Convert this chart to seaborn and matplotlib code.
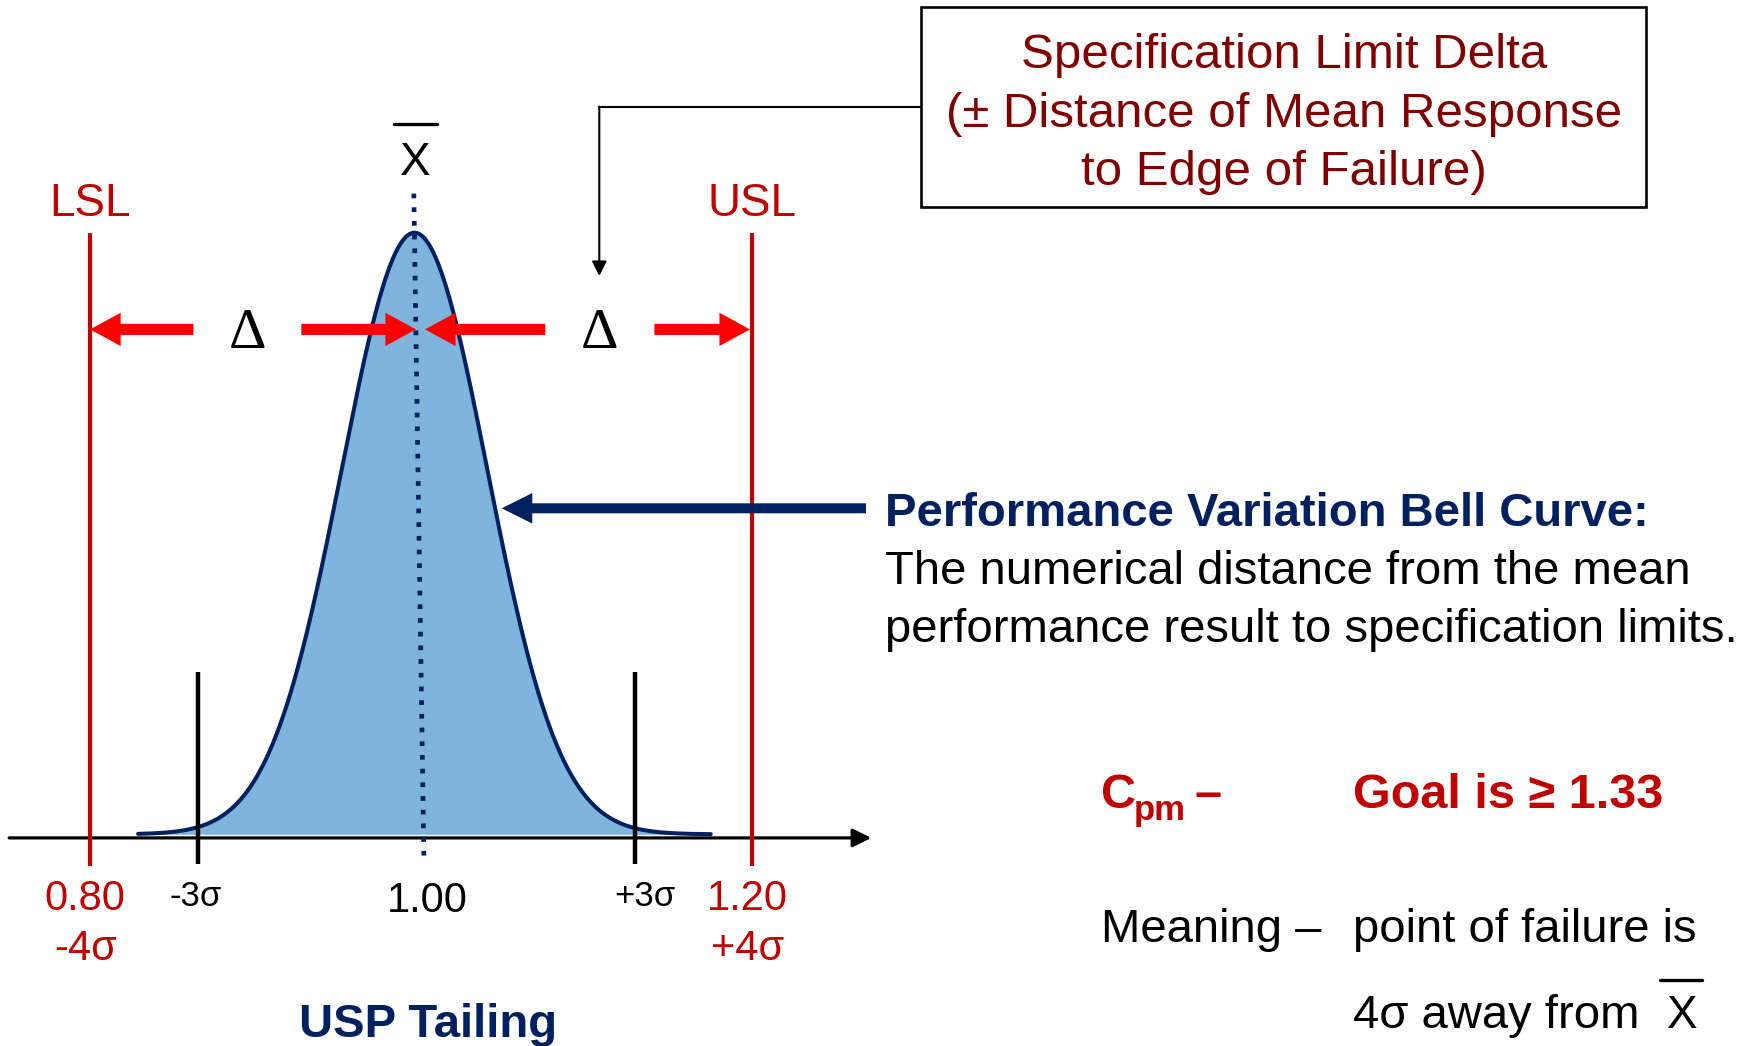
import numpy as np
import pandas as pd
import matplotlib
matplotlib.use("Agg")
import matplotlib.pyplot as plt
import seaborn as sns
from matplotlib.patches import Rectangle
from matplotlib.transforms import blended_transform_factory

# ---------------- data ----------------
limit_names = ["LSL", "USL"]
limit_values = [0.80, 1.20]
limit_labels = ["0.80", "1.20"]
limit_sigma_labels = ["-4σ", "+4σ"]
center_value = 1.00
center_label = "1.00"
sigma3_values = [0.865, 1.129]
sigma3_labels = ["-3σ", "+3σ"]
curve_mean = 0.996
curve_sd = 0.044
curve_range = [0.829, 1.175]
x_label = "USP Tailing"
box_lines = ["Specification Limit Delta",
             "(± Distance of Mean Response",
             "to Edge of Failure)"]
bell_title = "Performance Variation Bell Curve:"
bell_lines = ["The numerical distance from the mean",
              "performance result to specification limits."]

# ---------------- style ----------------
sns.set_theme(style="white")
plt.rcParams['font.family'] = ['Liberation Sans', 'DejaVu Sans']

RED = "#C00000"
DARKRED = "#800000"
NAVY = "#002060"
FILL = "#7FB5DD"
BRIGHT = "#FF0000"

W, H = 1763, 1046
fig = plt.figure(figsize=(W / 100, H / 100), dpi=100)
ax = fig.add_axes([0, 0, 1, 1])
PX0, PXU = 421.1, 1655.0
PY0, PYU = 834.3, 601.6
ax.set_xlim(1 - PX0 / PXU, 1 + (W - PX0) / PXU)
ax.set_ylim(-(H - PY0) / PYU, PY0 / PYU)

ov = fig.add_axes([0, 0, 1, 1], facecolor="none")
ov.set_xlim(0, W)
ov.set_ylim(H, 0)
ov.axis("off")

# bell curve
xs = np.linspace(curve_range[0], curve_range[1], 800)
dens = np.exp(-0.5 * ((xs - curve_mean) / curve_sd) ** 2)
df = pd.DataFrame({"x": xs, "y": dens})
ax.fill_between(df["x"], 0, df["y"], color=FILL, lw=0, zorder=1)
sns.lineplot(data=df, x="x", y="y", ax=ax, color=NAVY, lw=2.9, zorder=3,
             sort=False, estimator=None)

# axis line with arrow
ax.annotate("", xy=(1.272, -0.006), xytext=(0.7511, -0.006),
            arrowprops=dict(arrowstyle="-|>", color="black", lw=2.3,
                            mutation_scale=28, shrinkA=0, shrinkB=0), zorder=2)

# limit lines
ax.vlines(limit_values, -0.052, 1.0, color=RED, lw=3.0, zorder=4)
# ±3 sigma lines
ax.vlines(sigma3_values, -0.0486, 0.269, color="black", lw=3.2, zorder=4)
# mean dotted line
ax.plot([0.9956, 1.0017], [1.065, -0.043], color=NAVY, lw=3.4,
        linestyle=(0, (1.0, 1.9)), solid_capstyle="butt", zorder=5)
ax.axis("off")

# ---------------- text along the axis ----------------
bt = blended_transform_factory(ax.transData, ov.transData)
for name, v in zip(limit_names, limit_values):
    ax.text(v, 216, name, transform=bt, color=RED, fontsize=33,
            ha="center", va="baseline")
for lab, slab, v in zip(limit_labels, limit_sigma_labels, limit_values):
    ax.text(v - 0.003, 910, lab, transform=bt, color=RED, fontsize=30,
            ha="center", va="baseline")
    ax.text(v - 0.003, 960, slab, transform=bt, color=RED, fontsize=30,
            ha="center", va="baseline")
ax.text(center_value + 0.004, 911.7, center_label, transform=bt, color="black",
        fontsize=30, ha="center", va="baseline")
for lab, v, dx in zip(sigma3_labels, sigma3_values, [-0.001, 0.006]):
    ax.text(v + dx, 906, lab, transform=bt, color="black", fontsize=25,
            ha="center", va="baseline")
ax.text(center_value + 0.004, 1036.7, x_label, transform=bt, color=NAVY,
        fontsize=34, fontweight="bold", ha="center", va="baseline")

# X-bar over mean
ov.text(415, 175, "X", color="black", fontsize=33, ha="center", va="baseline")
ov.plot([394, 436.7], [124, 124], color="black", lw=2.4)

# ---------------- red delta arrows ----------------
def fat_arrow(axis, tail, tip, color, tw, hw, hl):
    axis.annotate("", xy=tip, xytext=tail,
                  arrowprops=dict(arrowstyle=f"simple,head_length={hl},head_width={hw},tail_width={tw}",
                                  fc=color, ec="none", lw=0, shrinkA=0, shrinkB=0,
                                  mutation_scale=1))

AY = 329.4
fat_arrow(ov, (193.4, AY), (90.1, AY), BRIGHT, 8, 24, 22)
fat_arrow(ov, (301.3, AY), (416.0, AY), BRIGHT, 8, 24, 22)
fat_arrow(ov, (545.3, AY), (425.0, AY), BRIGHT, 8, 24, 22)
fat_arrow(ov, (654.4, AY), (750.0, AY), BRIGHT, 8, 24, 22)
for x in [247.4, 599.3]:
    ov.text(x, 348, "Δ", fontsize=42, family=["Liberation Serif", "DejaVu Serif"],
            color="black", ha="center", va="baseline")

# ---------------- navy arrow and bell text ----------------
fat_arrow(ov, (866, 508.3), (501.7, 508.3), NAVY, 7.2, 22, 22)
ov.text(885, 526, bell_title, color=NAVY, fontsize=34, fontweight="bold",
        ha="left", va="baseline")
for i, line in enumerate(bell_lines):
    ov.text(885, 584 + 57.5 * i, line, color="black", fontsize=34,
            ha="left", va="baseline")

# ---------------- spec box ----------------
ov.add_patch(Rectangle((921, 6.7), 725, 200.3, fill=False, ec="black", lw=1.9))
for i, line in enumerate(box_lines):
    ov.text(1284, 68.3 + 58.3 * i, line, color=DARKRED, fontsize=35.5,
            ha="center", va="baseline")
ov.plot([921, 599.3], [106.7, 106.7], color="black", lw=1.5)
ov.annotate("", xy=(599.3, 276), xytext=(599.3, 106.7),
            arrowprops=dict(arrowstyle="-|>", color="black", lw=1.5,
                            mutation_scale=22, shrinkA=0, shrinkB=0))

# ---------------- Cpm text ----------------
ov.text(1101, 808.3, "C", color=RED, fontsize=35, fontweight="bold",
        ha="left", va="baseline")
ov.text(1134, 820, "pm", color=RED, fontsize=25, fontweight="bold",
        ha="left", va="baseline")
ov.text(1195, 808.3, "–", color=RED, fontsize=35, fontweight="bold",
        ha="left", va="baseline")
ov.text(1353, 808.3, "Goal is ≥ 1.33", color=RED, fontsize=35, fontweight="bold",
        ha="left", va="baseline")
ov.text(1101, 941.7, "Meaning –", color="black", fontsize=34,
        ha="left", va="baseline")
ov.text(1353, 941.7, "point of failure is", color="black", fontsize=34,
        ha="left", va="baseline")
ov.text(1353, 1028.3, "4σ away from", color="black", fontsize=34,
        ha="left", va="baseline")
ov.text(1682, 1028.3, "X", color="black", fontsize=33, ha="center", va="baseline")
ov.plot([1660, 1702], [980, 980], color="black", lw=2.4)

fig.savefig("out.png", dpi=100, facecolor="white")
